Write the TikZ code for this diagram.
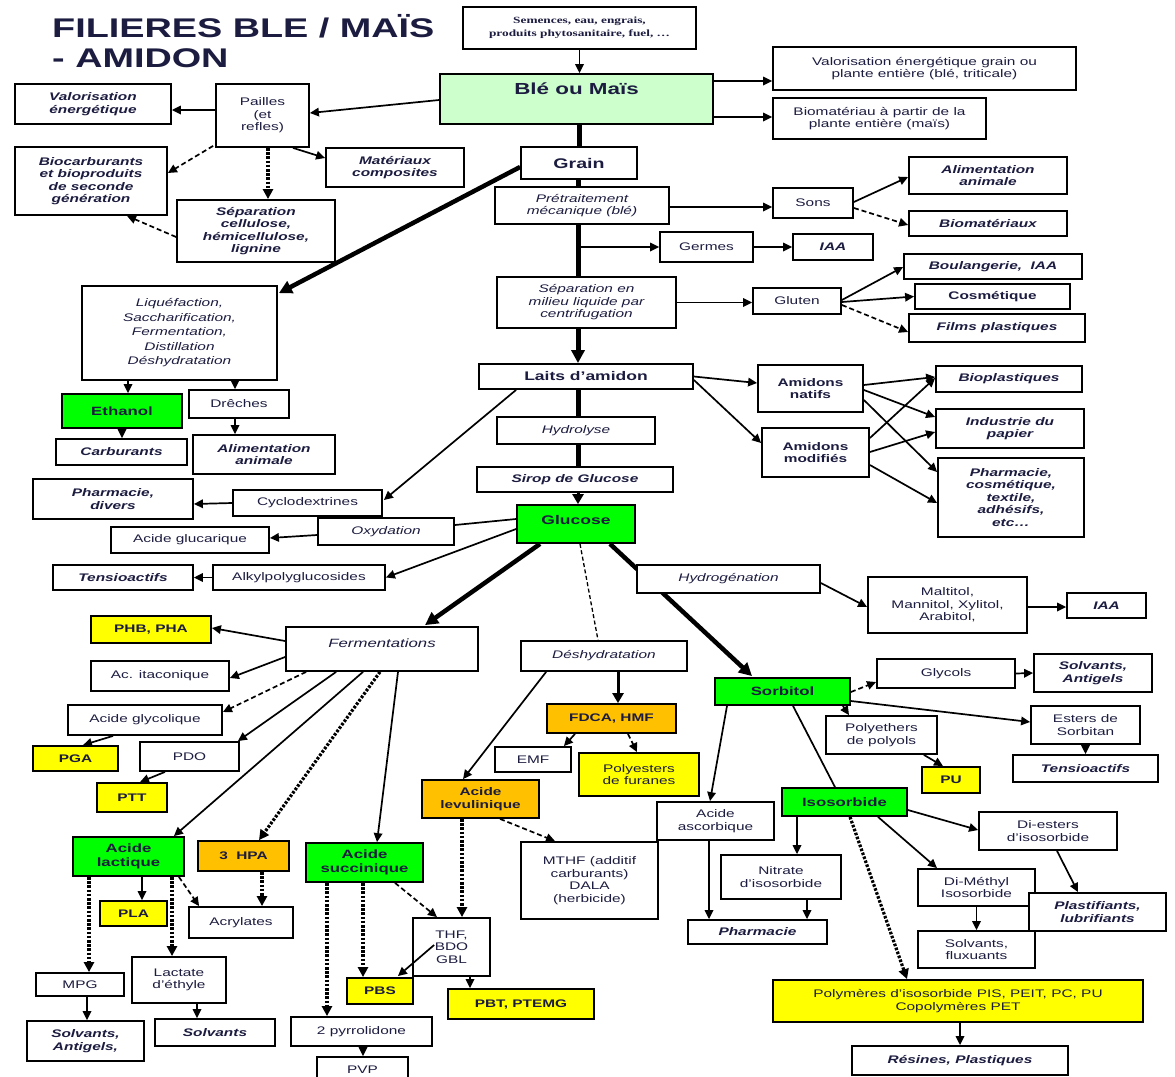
\documentclass[tikz,border=0pt]{standalone}
\usepackage{fontspec}
\setmainfont{Liberation Sans}[FakeStretch=1.4]
\newfontfamily\semfont{Liberation Serif}[FakeStretch=1.4]
\usetikzlibrary{arrows.meta}
\pgfdeclarelayer{bg}
\pgfsetlayers{bg,main}

\definecolor{txt}{HTML}{1C1C40}
\definecolor{lgreen}{HTML}{CCFFCC}
\definecolor{vgreen}{HTML}{00FF00}
\definecolor{yel}{HTML}{FFFF00}
\definecolor{orng}{HTML}{FFC000}

\newcommand\fsn{\fontsize{11}{12.5}\selectfont}
\newcommand\fsg{\fontsize{12}{13.5}\selectfont}
% invisible depth that lifts a label towards the top of its box
\newcommand\lift[1]{\rule[-#1]{0pt}{0pt}}
% box from (x1,y1) to (x2,y2), in pixel-like units with y pointing down
\newcommand\mkbox[7]{\node[box,#6,minimum width={#4-#2},minimum height={#5-#3}] (#1) at ({(#2+#4)/2},{(#3+#5)/2}) {#7};}

\begin{document}
\begin{tikzpicture}[x=1pt,y=-1pt,
  box/.style={draw=black,line width=1.8pt,fill=white,inner sep=1pt,align=center,text=txt,font=\fsn},
  bfn/.style={font=\fsn\bfseries},
  bit/.style={font=\fsn\bfseries\itshape},
  itl/.style={font=\fsn\itshape},
  grbox/.style={fill=vgreen,font=\fsg\bfseries},
  ylbox/.style={fill=yel,font=\fsn\bfseries},
  orbox/.style={fill=orng,font=\fsn\bfseries},
  ar/.style={line width=1.7pt,-{Triangle[length=9pt,width=8.5pt]}},
  arM/.style={line width=3pt,-{Triangle[length=10pt,width=11pt]}},
  arT/.style={line width=4.5pt,-{Triangle[length=13pt,width=13pt]}},
  ln/.style={line width=1.7pt},
  spine/.style={line width=5pt},
  dsh/.style={ar,dash pattern=on 5pt off 3pt},
  dotar/.style={line width=3.2pt,dash pattern=on 2.6pt off 1.6pt,-{Triangle[length=10pt,width=10pt]}},
  ttl/.style={anchor=base west,inner sep=0pt,text=txt,font=\fontsize{27}{29}\selectfont\bfseries}
]
\useasboundingbox (0,0) rectangle (1175,1076);

% title
\node[ttl] (title1) at (52,37) {FILIERES BLE / MAÏS};
\node[ttl] (title2) at (52,67) {- AMIDON};

% ---- upper part: plant, straw, grain
\mkbox{semences}{463}{7}{696}{49}{font=\semfont\fontsize{9.5}{13}\selectfont\bfseries}{Semences, eau, engrais,\\produits phytosanitaire, fuel, …}
\mkbox{ble}{440}{74}{713}{124}{fill=lgreen,font=\fontsize{16}{18}\selectfont\bfseries}{Blé ou Maïs\lift{20pt}}
\mkbox{valg}{773}{47}{1076}{90}{}{Valorisation énergétique grain ou\\plante entière (blé, triticale)}
\mkbox{biomat}{773}{98}{986}{139}{}{Biomatériau à partir de la\\plante entière (maïs)}
\mkbox{pailles}{216}{84}{309}{147}{}{Pailles\\(et\\refles)}
\mkbox{valen}{15}{84}{171}{124}{bit}{Valorisation\\énergétique}
\mkbox{biocarb}{15}{147}{167}{215}{bit}{Biocarburants\\et bioproduits\\de seconde\\génération}
\mkbox{matcomp}{326}{148}{464}{187}{bit}{Matériaux\\composites}
\mkbox{sepcell}{177}{200}{335}{262}{bit}{Séparation\\cellulose,\\hémicellulose,\\lignine}
\mkbox{grain}{521}{147}{637}{179}{font=\fontsize{14}{16}\selectfont\bfseries}{Grain}
\mkbox{pretrait}{495}{187}{669}{224}{itl}{Prétraitement\\mécanique (blé)}
\mkbox{sons}{773}{188}{853}{218}{}{Sons}
\mkbox{alimA}{909}{157}{1067}{194}{bit}{Alimentation\\animale}
\mkbox{biomx}{909}{211}{1067}{236}{bit}{Biomatériaux}
\mkbox{germes}{660}{232}{753}{262}{}{Germes}
\mkbox{iaa1}{793}{234}{873}{260}{bit}{IAA}
\mkbox{sepliq}{497}{277}{676}{328}{itl}{Séparation en\\milieu liquide par\\centrifugation}
\mkbox{gluten}{753}{288}{841}{314}{}{Gluten}
\mkbox{boul}{904}{254}{1082}{279}{bit}{Boulangerie,~ IAA}
\mkbox{cosm}{915}{284}{1070}{309}{bfn}{Cosmétique}
\mkbox{films}{909}{314}{1085}{342}{bit}{Films plastiques}

% ---- starch
\mkbox{laits}{479}{364}{693}{389}{font=\fontsize{12.5}{14}\selectfont\bfseries}{Laits d'amidon}
\mkbox{natifs}{758}{365}{863}{412}{bfn}{Amidons\\natifs}
\mkbox{modif}{762}{428}{869}{477}{bfn}{Amidons\\modifiés}
\mkbox{biopl}{936}{366}{1082}{392}{bit}{Bioplastiques}
\mkbox{papier}{936}{409}{1084}{448}{bit}{Industrie du\\papier}
\mkbox{pharmaR}{938}{458}{1084}{537}{bit}{Pharmacie,\\cosmétique,\\textile,\\adhésifs,\\etc…}
\mkbox{hydrolyse}{497}{417}{655}{444}{itl}{Hydrolyse}
\mkbox{sirop}{477}{467}{673}{492}{bit}{Sirop de Glucose}
\mkbox{glucose}{517}{505}{635}{543}{grbox,font=\fontsize{12.5}{14}\selectfont\bfseries}{Glucose\lift{8.5pt}}
\mkbox{liquef}{82}{286}{277}{380}{font=\fontsize{11}{14.5}\selectfont\itshape}{Liquéfaction,\\Saccharification,\\Fermentation,\\Distillation\\Déshydratation}
\mkbox{ethanol}{62}{394}{182}{428}{grbox}{Ethanol}
\mkbox{dreches}{189}{390}{289}{418}{}{Drêches}
\mkbox{carbur}{56}{439}{187}{465}{bit}{Carburants}
\mkbox{alimB}{193}{435}{335}{474}{bit}{Alimentation\\animale}
\mkbox{cyclo}{233}{490}{382}{516}{}{Cyclodextrines}
\mkbox{pharmaD}{33}{479}{193}{519}{bit}{Pharmacie,\\divers}
\mkbox{oxyd}{318}{518}{454}{545}{itl}{Oxydation}
\mkbox{glucar}{111}{527}{269}{553}{}{Acide glucarique}
\mkbox{alkyl}{213}{565}{385}{590}{}{Alkylpolyglucosides}
\mkbox{tensioL}{53}{565}{193}{590}{bit}{Tensioactifs}
\mkbox{hydrog}{637}{565}{820}{593}{itl}{Hydrogénation}
\mkbox{maltitol}{868}{577}{1027}{633}{}{Maltitol,\\Mannitol, Xylitol,\\Arabitol,}
\mkbox{iaa2}{1067}{593}{1146}{618}{bit}{IAA}

% ---- fermentations
\mkbox{ferm}{286}{627}{478}{671}{font=\fontsize{12}{14}\selectfont\itshape}{Fermentations\lift{12.5pt}}
\mkbox{phb}{91}{616}{211}{643}{ylbox}{PHB, PHA}
\mkbox{itacon}{91}{661}{229}{691}{}{Ac. itaconique}
\mkbox{glycol}{68}{705}{222}{735}{}{Acide glycolique}
\mkbox{pga}{33}{746}{118}{771}{ylbox}{PGA}
\mkbox{pdo}{140}{742}{239}{771}{}{PDO}
\mkbox{ptt}{97}{783}{167}{812}{ylbox}{PTT}
\mkbox{lact}{73}{837}{184}{876}{grbox}{Acide\\lactique}
\mkbox{hpa}{198}{841}{289}{871}{orbox}{3~ HPA}
\mkbox{succ}{306}{843}{423}{882}{grbox}{Acide\\succinique}
\mkbox{pla}{100}{901}{167}{926}{ylbox}{PLA}
\mkbox{acryl}{189}{907}{293}{938}{}{Acrylates}
\mkbox{mpg}{36}{973}{124}{996}{}{MPG}
\mkbox{lactate}{132}{957}{226}{1003}{}{Lactate\\d'éthyle}
\mkbox{solvA}{27}{1021}{144}{1061}{bit}{Solvants,\\Antigels,}
\mkbox{solvB}{155}{1019}{275}{1046}{bit}{Solvants}
\mkbox{pyrro}{291}{1017}{432}{1046}{}{2 pyrrolidone}
\mkbox{pbs}{347}{978}{413}{1004}{ylbox}{PBS}
\mkbox{pvp}{317}{1057}{408}{1082}{}{PVP}
\mkbox{thf}{413}{918}{490}{976}{}{THF,\\BDO\\GBL}
\mkbox{pbt}{448}{989}{594}{1019}{ylbox}{PBT, PTEMG}

% ---- dehydration
\mkbox{deshyd}{521}{641}{687}{671}{itl}{Déshydratation}
\mkbox{fdca}{547}{704}{676}{733}{orbox}{FDCA, HMF}
\mkbox{emf}{495}{747}{571}{772}{}{EMF}
\mkbox{polyest}{579}{753}{699}{796}{ylbox,font=\fsn}{Polyesters\\de furanes}
\mkbox{levul}{422}{780}{539}{818}{orbox}{Acide\\levulinique}
\mkbox{mthf}{521}{842}{658}{919}{}{MTHF (additif\\carburants)\\DALA\\(herbicide)}

% ---- hydrogenation
\mkbox{sorbitol}{715}{678}{850}{705}{grbox}{Sorbitol}
\mkbox{ascorb}{657}{802}{774}{840}{}{Acide\\ascorbique}
\mkbox{glycols}{877}{659}{1015}{688}{}{Glycols}
\mkbox{solvC}{1034}{654}{1152}{692}{bit}{Solvants,\\Antigels}
\mkbox{polyeth}{826}{716}{937}{754}{}{Polyethers\\de polyols}
\mkbox{pu}{922}{767}{980}{793}{ylbox}{PU}
\mkbox{esters}{1031}{706}{1140}{744}{}{Esters de\\Sorbitan}
\mkbox{tensioR}{1013}{755}{1158}{782}{bit}{Tensioactifs}
\mkbox{isosorb}{782}{788}{907}{816}{grbox}{Isosorbide}
\mkbox{nitrate}{721}{855}{841}{899}{}{Nitrate\\d'isosorbide}
\mkbox{pharmaC}{688}{920}{827}{944}{bit}{Pharmacie}
\mkbox{diesters}{979}{812}{1117}{850}{}{Di-esters\\d'isosorbide}
\mkbox{dimethyl}{918}{869}{1035}{906}{}{Di-Méthyl\\Isosorbide}
\mkbox{plastif}{1029}{893}{1166}{931}{bit}{Plastifiants,\\lubrifiants}
\mkbox{solvF}{918}{931}{1035}{968}{}{Solvants,\\fluxuants}
\mkbox{polym}{773}{980}{1143}{1022}{ylbox,font=\fsn}{Polymères d'isosorbide PIS, PEIT, PC, PU\\Copolymères PET}
\mkbox{resines}{852}{1046}{1068}{1075}{bit}{Résines, Plastiques}

% ---- lines passing behind boxes
\begin{pgfonlayer}{bg}
\draw[spine] ([shift={(-8,0)}]laits.south) -- ([shift={(3,0)}]sirop.north);
\draw[arT] ([shift={(34,0)}]glucose.south) -- ([shift={(-30.5,-1)}]sorbitol.north);
\end{pgfonlayer}

% ---- connectors, upper part
\draw[ar] (semences.south) -- (semences.south |- ble.north);
\draw[ar] ([shift={(0,-18)}]ble.east) -- ([shift={(0,12.5)}]valg.west);
\draw[ar] ([shift={(0,18)}]ble.east) -- ([shift={(0,-1.5)}]biomat.west);
\draw[ar] ([shift={(0,1)}]ble.west) -- ([shift={(0,-2.5)}]pailles.east);
\draw[ar] ([shift={(0,-5.5)}]pailles.west) -- ([shift={(0,6)}]valen.east);
\draw[dsh] ([shift={(-2,-2)}]pailles.south west) -- ([shift={(0,-8)}]biocarb.east);
\draw[dotar] ([shift={(5.5,0)}]pailles.south) -- ([shift={(12,0)}]sepcell.north);
\draw[ar] ([shift={(30.5,0)}]pailles.south) -- ([shift={(0,-9.5)}]matcomp.west);
\draw[dsh] ([shift={(0,6)}]sepcell.west) -- ([shift={(36,0)}]biocarb.south);
\draw[spine] (grain.north |- ble.south) -- (grain.north);
\draw[arT] ([shift={(0,4)}]grain.west) -- ([shift={(1,8)}]liquef.north east);
\draw[spine] ([shift={(-1,0)}]grain.south) -- ([shift={(-4,0)}]pretrait.north);
\draw[ar] ([shift={(0,1.5)}]pretrait.east) -- ([shift={(0,4)}]sons.west);
\draw[ar] ([shift={(0,-1)}]sons.east) -- ([shift={(0,1.5)}]alimA.west);
\draw[dsh] ([shift={(0,5)}]sons.east) -- ([shift={(0,1.5)}]biomx.west);
\draw[spine] ([shift={(-4,0)}]pretrait.south) -- ([shift={(-8.5,0)}]sepliq.north);
\draw[ar] (germes.west -| grain.south) -- (germes.west);
\draw[ar] (germes.east) -- (iaa1.west);
\draw[ar] (sepliq.east) -- (sepliq.east -| gluten.west);
\draw[ar] ([shift={(0,-1)}]gluten.east) -- ([shift={(0,0.5)}]boul.west);
\draw[ar] ([shift={(0,1)}]gluten.east) -- (cosm.west);
\draw[dsh] ([shift={(0,4)}]gluten.east) -- ([shift={(0,4)}]films.west);
\draw[arT,line width=5pt] ([shift={(-8.5,0)}]sepliq.south) -- ([shift={(-8,0)}]laits.north);

% ---- starch uses
\draw[ar] (laits.east) -- ([shift={(0,-5.5)}]natifs.west);
\draw[ar] ([shift={(0,3.5)}]laits.east) -- ([shift={(0,-9.5)}]modif.west);
\draw[ar] ([shift={(0,-3.5)}]natifs.east) -- ([shift={(0,-2)}]biopl.west);
\draw[ar] ([shift={(0,1.5)}]natifs.east) -- ([shift={(0,-11.5)}]papier.west);
\draw[ar] ([shift={(0,11.5)}]natifs.east) -- ([shift={(0,-25.5)}]pharmaR.west);
\draw[ar] ([shift={(0,-14.5)}]modif.east) -- ([shift={(0,-1)}]biopl.west);
\draw[ar] ([shift={(0,-0.5)}]modif.east) -- ([shift={(0,3.5)}]papier.west);
\draw[ar] ([shift={(0,12.5)}]modif.east) -- ([shift={(0,5.5)}]pharmaR.west);
\draw[arM] ([shift={(3,0)}]sirop.south) -- ([shift={(2,0)}]glucose.north);
\draw[ar] ([shift={(-51.5,0)}]liquef.south) -- ([shift={(6,0)}]ethanol.north);
\draw[ar] ([shift={(55.5,0)}]liquef.south) -- ([shift={(-4,0)}]dreches.north);
\draw[ar] (ethanol.south) -- (ethanol.south |- carbur.north);
\draw[ar] ([shift={(-4,0)}]dreches.south) -- ([shift={(-29,0)}]alimB.north);
\draw[ar] ([shift={(38,0)}]laits.south west) -- ([shift={(1,-3)}]cyclo.east);
\draw[ar] (cyclo.west) -- ([shift={(0,5)}]pharmaD.east);
\draw[ln] ([shift={(0,-5)}]glucose.west) -- ([shift={(0,-6.5)}]oxyd.east);
\draw[ar] ([shift={(0,3.5)}]oxyd.west) -- ([shift={(0,-2)}]glucar.east);
\draw[ar] ([shift={(0,5)}]glucose.west) -- (alkyl.east);
\draw[ar] (alkyl.west) -- (tensioL.east);
\draw[arT] ([shift={(-36,0)}]glucose.south) -- ([shift={(43,-1)}]ferm.north);
\draw[line width=1.3pt,dash pattern=on 4pt off 2.5pt] ([shift={(4,0)}]glucose.south) -- ([shift={(-6,0)}]deshyd.north);
\draw[ar] ([shift={(0,4)}]hydrog.east) -- ([shift={(0,2)}]maltitol.west);
\draw[ar] ([shift={(0,2)}]maltitol.east) -- ([shift={(0,1.5)}]iaa2.west);

% ---- fermentation products
\draw[ar] ([shift={(0,-8)}]ferm.west) -- ([shift={(0,-1.5)}]phb.east);
\draw[ar] ([shift={(0,8)}]ferm.west) -- ([shift={(0,2)}]itacon.east);
\draw[dsh] ([shift={(21,0)}]ferm.south west) -- ([shift={(0,-8)}]glycol.east);
\draw[ar] ([shift={(51,0)}]ferm.south west) -- ([shift={(-2,0)}]pdo.north east);
\draw[ar] ([shift={(-19,0)}]ferm.south) -- ([shift={(-11,0)}]lact.north east);
\draw[dotar] ([shift={(-2,0)}]ferm.south) -- ([shift={(15.5,0)}]hpa.north);
\draw[ar] ([shift={(16,0)}]ferm.south) -- ([shift={(12.5,0)}]succ.north);
\draw[ar] ([shift={(-32,0)}]glycol.south) -- ([shift={(7.5,0)}]pga.north);
\draw[ar] ([shift={(-24.5,0)}]pdo.south) -- ([shift={(8,0)}]ptt.north);
\draw[ar] ([shift={(13.5,0)}]lact.south) -- ([shift={(8.5,0)}]pla.north);
\draw[dsh] ([shift={(-6,0)}]lact.south east) -- ([shift={(11,0)}]acryl.north west);
\draw[dotar] ([shift={(18.5,0)}]hpa.south) -- ([shift={(21,0)}]acryl.north);
\draw[dotar] ([shift={(-39.5,0)}]lact.south) -- ([shift={(9,0)}]mpg.north);
\draw[dotar] ([shift={(43.5,0)}]lact.south) -- ([shift={(-7,0)}]lactate.north);
\draw[ar] ([shift={(7,0)}]mpg.south) -- ([shift={(1.5,0)}]solvA.north);
\draw[ar] ([shift={(18,0)}]lactate.south) -- ([shift={(-18,0)}]solvB.north);
\draw[dotar] ([shift={(-37.5,0)}]succ.south) -- ([shift={(-34.5,0)}]pyrro.north);
\draw[dotar] ([shift={(-1.5,0)}]succ.south) -- ([shift={(-17,0)}]pbs.north);
\draw[ar] ([shift={(1.5,0)}]pyrro.south) -- ([shift={(0.5,0)}]pvp.north);
\draw[dsh] ([shift={(30.5,0)}]succ.south) -- ([shift={(-14.5,0)}]thf.north);
\draw[ar] ([shift={(22,-2)}]thf.west) -- ([shift={(-16,-1)}]pbs.north east);
\draw[ar] ([shift={(18.5,0)}]thf.south) -- ([shift={(-51,0)}]pbt.north);

% ---- dehydration products
\draw[arM] ([shift={(14,0)}]deshyd.south) -- ([shift={(6.5,0)}]fdca.north);
\draw[ar] ([shift={(26,0)}]deshyd.south west) -- ([shift={(-17.5,0)}]levul.north);
\draw[ar] ([shift={(-36.5,0)}]fdca.south) -- ([shift={(-8,0)}]emf.north east);
\draw[dsh] ([shift={(16.5,0)}]fdca.south) -- ([shift={(-2,0)}]polyest.north);
\draw[dotar] ([shift={(-18.5,0)}]levul.south) -- ([shift={(10.5,0)}]thf.north);
\draw[dsh] ([shift={(19.5,0)}]levul.south) -- ([shift={(-34.5,0)}]mthf.north);

% ---- sorbitol and isosorbide
\draw[ar] ([shift={(-55.5,0)}]sorbitol.south) -- ([shift={(-5.5,0)}]ascorb.north);
\draw[ar] ([shift={(-6.5,0)}]ascorb.south) -- ([shift={(-48.5,0)}]pharmaC.north);
\draw[ln] ([shift={(10.5,0)}]sorbitol.south) -- ([shift={(-9.5,0)}]isosorb.north);
\draw[dsh] ([shift={(0,0.5)}]sorbitol.east) -- ([shift={(0,8.5)}]glycols.west);
\draw[ar] (glycols.east) -- (solvC.west);
\draw[dsh] ([shift={(-8,0)}]sorbitol.south east) -- ([shift={(-32.5,0)}]polyeth.north);
\draw[ar] ([shift={(-14,0)}]polyeth.south east) -- ([shift={(-8,0)}]pu.north);
\draw[ar] ([shift={(0,9.5)}]sorbitol.east) -- ([shift={(0,-3)}]esters.west);
\draw[ar] (esters.south) -- (tensioR.north);
\draw[ar] ([shift={(-47.5,0)}]isosorb.south) -- ([shift={(16,0)}]nitrate.north);
\draw[ar] ([shift={(26,0)}]nitrate.south) -- ([shift={(49.5,0)}]pharmaC.north);
\draw[ar] ([shift={(0,8)}]isosorb.east) -- ([shift={(0,-1)}]diesters.west);
\draw[ar] ([shift={(9,0)}]diesters.south) -- ([shift={(-19.5,0)}]plastif.north);
\draw[ar] ([shift={(33.5,0)}]isosorb.south) -- ([shift={(-39.5,0)}]dimethyl.north);
\draw[ar] (dimethyl.south) -- (solvF.north);
\draw[dotar] ([shift={(5.5,0)}]isosorb.south) -- ([shift={(-51,0)}]polym.north);
\draw[ar] ([shift={(2,0)}]polym.south) -- (resines.north);
\end{tikzpicture}
\end{document}
